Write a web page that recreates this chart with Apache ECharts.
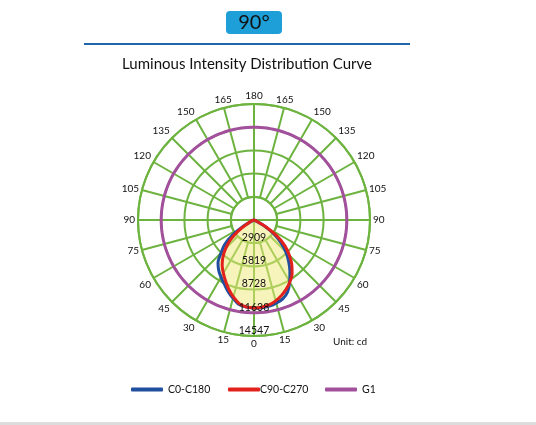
<!DOCTYPE html>
<html>
<head>
<meta charset="utf-8">
<script src="https://cdn.jsdelivr.net/npm/echarts@6/dist/echarts.min.js"></script>
<style>
html,body{margin:0;padding:0;background:#fff;}
#c{width:536px;height:425px;}
</style>
</head>
<body>
<div id="c"></div>
<script>
// gamma angles (deg from nadir)
const gamma = [0,5,10,15,20,25,30,35,40,45,50,55,60,65,70,75,80,85,90];
// C0-C180 curve (cd)
const c0   = [11035,11035,10972,10784,10534,9969,8941,7850,6747,5643,4339,3010,1505,251,0,0,0,0,0];
const c180 = [11035,10972,10759,10157,9530,8841,8276,7712,7022,5831,4828,3260,1505,251,0,0,0,0,0];
// C90-C270 curve (cd)
const c90  = [11035,10972,10822,10496,10070,9568,8979,8327,7386,6283,5091,3574,1693,376,0,0,0,0,0];
const c270 = [11035,10947,10646,9994,9242,8439,7687,6960,6057,5016,3837,2470,1003,0,0,0,0,0,0];
// G1 reference curve (cd) at angles g1Angles
const g1Angles = [0,10,20,30,40,50,60,70,80,90,100,110,120,130,140,150,160,170,180];
const g1 = [11638,11638,11638,11638,11638,11638,11638,11638,11638,11638,11638,11638,11638,11638,11638,11638,11638,11638,11638];
// radial tick values
const radialMax = 14547;
const radialStep = 2909.4;
const legendNames = ['C0-C180','C90-C270','G1'];

const GREEN = '#6db33f';
const FONT = 'Lato';

function buildCurve(left, right){
  const pts = [];
  for (let i = 0; i < gamma.length; i++) pts.push([left[i], gamma[i]]);
  for (let i = gamma.length - 1; i >= 0; i--) pts.push([right[i], 360 - gamma[i]]);
  return pts;
}
function buildCircle(vals, angs){
  const pts = [];
  for (let i = 0; i < angs.length; i++) pts.push([vals[i], angs[i]]);
  for (let i = angs.length - 2; i >= 0; i--) pts.push([vals[i], 360 - angs[i]]);
  return pts;
}
// densify G1 along angle so the chords follow the circle
function densify(pts){
  const out = [];
  for (let i = 0; i < pts.length - 1; i++){
    const a = pts[i], b = pts[i+1];
    for (let k = 0; k < 10; k++){
      const t = k/10;
      out.push([a[0] + (b[0]-a[0])*t, a[1] + (b[1]-a[1])*t]);
    }
  }
  out.push(pts[pts.length-1]);
  return out;
}

const chart = echarts.init(document.getElementById('c'), null, {renderer:'canvas'});
const center = [254, 220];
chart.setOption({
  animation:false,
  textStyle:{fontFamily:FONT},
  polar:[
    {center:center, radius:116},
    {center:center, radius:[23,116]},
    {center:center, radius:116}
  ],
  angleAxis:[
    {polarIndex:0, type:'value', min:0, max:360, interval:90, startAngle:-90, clockwise:true,
     axisLine:{show:false}, axisTick:{show:false}, axisLabel:{show:false},
     splitLine:{show:true, lineStyle:{color:GREEN, width:2}}},
    {polarIndex:1, type:'value', min:0, max:360, interval:15, startAngle:-90, clockwise:true,
     axisLine:{show:true, lineStyle:{color:GREEN, width:2}}, axisTick:{show:false},
     axisLabel:{show:true, margin:3, color:'#111', fontSize:10, fontFamily:FONT,
       formatter:function(v){ if (v >= 360) return ''; return String(v <= 180 ? v : 360 - v); }},
     splitLine:{show:true, lineStyle:{color:GREEN, width:2}}},
    {polarIndex:2, type:'value', min:0, max:360, startAngle:-90, clockwise:true, show:false,
     axisLine:{show:false}, axisTick:{show:false}, axisLabel:{show:false}, splitLine:{show:false}}
  ],
  radiusAxis:[
    {polarIndex:0, type:'value', min:0, max:radialMax, interval:radialStep,
     axisLine:{show:false}, axisTick:{show:false}, axisLabel:{show:false},
     splitLine:{show:true, lineStyle:{color:GREEN, width:2}}},
    {polarIndex:1, type:'value', min:0, max:1, show:false, splitLine:{show:false}},
    {polarIndex:2, type:'value', min:0, max:radialMax, interval:radialStep, z:10,
     axisLine:{show:false}, axisTick:{show:false}, splitLine:{show:false},
     axisLabel:{show:true, margin:0, align:'center', verticalAlign:'bottom', color:'#111', fontSize:10.5, fontFamily:FONT,
       formatter:function(v){ return v === 0 ? '' : String(Math.round(v)); }}}
  ],
  legend:[
    {data:[legendNames[0]], left:126, top:379, itemWidth:32, itemHeight:4, icon:'roundRect', itemGap:0,
     textStyle:{fontSize:10.5, color:'#111', fontFamily:FONT}},
    {data:[legendNames[1]], left:223, top:379, itemWidth:32, itemHeight:4, icon:'roundRect', itemGap:0,
     textStyle:{fontSize:10.5, color:'#111', fontFamily:FONT, padding:[0,0,0,-5]}},
    {data:[legendNames[2]], left:320, top:379, itemWidth:32, itemHeight:4, icon:'roundRect', itemGap:0,
     textStyle:{fontSize:10.5, color:'#111', fontFamily:FONT}}
  ],
  series:[
    {name:legendNames[0], type:'line', coordinateSystem:'polar', polarIndex:0, symbol:'none', smooth:0.3,
     data:buildCurve(c180, c0), lineStyle:{color:'#1f4f9e', width:3}, itemStyle:{color:'#1f4f9e'},
     areaStyle:{color:'rgb(238,234,120)', opacity:0.5}, z:3},
    {name:legendNames[1], type:'line', coordinateSystem:'polar', polarIndex:0, symbol:'none', smooth:0.3,
     data:buildCurve(c270, c90), lineStyle:{color:'#e3211c', width:3}, itemStyle:{color:'#e3211c'}, z:4},
    {name:legendNames[2], type:'line', coordinateSystem:'polar', polarIndex:0, symbol:'none', smooth:false,
     data:densify(buildCircle(g1, g1Angles)), lineStyle:{color:'#a24f9c', width:3}, itemStyle:{color:'#a24f9c'}, z:2}
  ],
  graphic:[
    {type:'rect', shape:{x:226, y:11, width:56, height:23, r:4}, style:{fill:'#1e9fd8'}},
    {type:'text', x:254, y:23, style:{text:'90°', fill:'#111', fontSize:20, fontFamily:FONT, align:'center', verticalAlign:'middle'}},
    {type:'line', shape:{x1:84, y1:44, x2:410, y2:44}, style:{stroke:'#2166a8', lineWidth:2}},
    {type:'text', x:247, y:64, style:{text:'Luminous Intensity Distribution Curve', fill:'#111', fontSize:15, fontFamily:FONT, align:'center', verticalAlign:'middle'}},
    {type:'text', x:333, y:342, style:{text:'Unit: cd', fill:'#111', fontSize:10, fontFamily:FONT, align:'left', verticalAlign:'middle'}},
    {type:'rect', shape:{x:0, y:422, width:536, height:3}, style:{fill:'#dcdcdc'}}
  ]
});
</script>
</body>
</html>
